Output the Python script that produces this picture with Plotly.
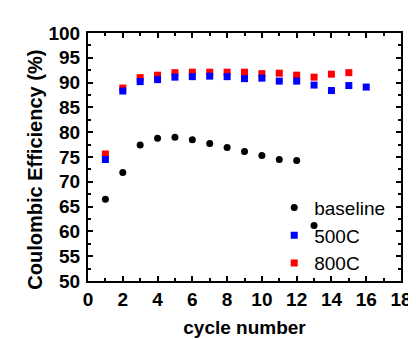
import plotly.graph_objects as go

cycles_baseline = [1, 2, 3, 4, 5, 6, 7, 8, 9, 10, 11, 12, 13]
baseline = [66.5, 71.9, 77.4, 78.8, 79.0, 78.5, 77.7, 76.9, 76.1, 75.3, 74.5, 74.3, 61.2]

cycles_500 = [1, 2, 3, 4, 5, 6, 7, 8, 9, 10, 11, 12, 13, 14, 15, 16]
c500 = [74.5, 88.3, 90.2, 90.6, 91.1, 91.2, 91.3, 91.2, 90.8, 90.9, 90.3, 90.3, 89.5, 88.4, 89.4, 89.1]

cycles_800 = [1, 2, 3, 4, 5, 6, 7, 8, 9, 10, 11, 12, 13, 14, 15]
c800 = [75.6, 88.9, 91.0, 91.5, 92.0, 92.1, 92.1, 92.1, 92.1, 91.8, 91.9, 91.5, 91.1, 91.7, 92.0]

FONT = "Liberation Sans, Arial, sans-serif"

fig = go.Figure()
fig.add_trace(go.Scatter(x=cycles_baseline, y=baseline, mode="markers", name="baseline",
                         marker=dict(symbol="circle", size=7, color="black"), legendrank=1))
fig.add_trace(go.Scatter(x=cycles_800, y=c800, mode="markers", name="800C",
                         marker=dict(symbol="square", size=7, color="#ff0000"), legendrank=3))
fig.add_trace(go.Scatter(x=cycles_500, y=c500, mode="markers", name="500C",
                         marker=dict(symbol="square", size=7, color="#0000ff"), legendrank=2))

axis_common = dict(
    showline=True, linecolor="black", linewidth=2, mirror="ticks",
    ticks="inside", ticklen=5, tickwidth=1.5, tickcolor="black",
    showgrid=False, zeroline=False,
    tickfont=dict(family=FONT, size=19, color="black", weight="bold"),
)

fig.update_xaxes(range=[0, 18], dtick=2, tick0=0,
                 minor=dict(dtick=1, ticks="inside", ticklen=3, tickcolor="black", tickwidth=1.5),
                 title=dict(text="cycle number", font=dict(family=FONT, size=19, color="black", weight="bold"), standoff=12),
                 **axis_common)
fig.update_yaxes(range=[50, 100], dtick=5, tick0=50, ticklabelstandoff=2,
                 minor=dict(dtick=2.5, ticks="inside", ticklen=3, tickcolor="black", tickwidth=1.5),
                 **axis_common)

fig.add_annotation(text="Coulombic Efficiency (%)", xref="paper", yref="paper",
                   x=-0.170, y=0.448, xanchor="center", yanchor="middle", textangle=-90,
                   showarrow=False, font=dict(family=FONT, size=20, color="black", weight="bold"))

fig.update_layout(
    width=416, height=339,
    margin=dict(l=80, r=13, t=25, b=54),
    plot_bgcolor="white", paper_bgcolor="white",
    legend=dict(x=0.595, y=0.372, xanchor="left", yanchor="top", bgcolor="rgba(0,0,0,0)",
                font=dict(family=FONT, size=19, color="black"), tracegroupgap=0),
    showlegend=True,
)

fig.write_html("out.html")
